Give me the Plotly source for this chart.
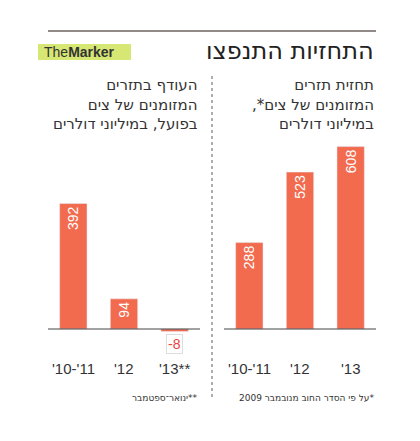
import plotly.graph_objects as go

cats_left = ["'10-'11", "'12", "'13**"]
vals_left = [392, 94, -8]
cats_right = ["'10-'11", "'12", "'13"]
vals_right = [288, 523, 608]

W, H = 420, 441
ORANGE = '#f26b4f'
FONT = 'Liberation Sans, Arial, sans-serif'
HEB = 'DejaVu Sans, Noto Sans, sans-serif'
RLM = '\u200f'

def px(x):
    return x / W

def py(y):
    return 1 - (y - 8) / H

fig = go.Figure()

fig.add_trace(go.Bar(
    x=cats_left, y=vals_left, xaxis='x', yaxis='y', marker_color=ORANGE,
    text=[str(v) if v > 0 else '' for v in vals_left], textposition='inside',
    insidetextanchor='end', textangle=-90,
    textfont=dict(color='white', size=14, family=FONT), cliponaxis=False
))
fig.add_trace(go.Bar(
    x=cats_right, y=vals_right, xaxis='x2', yaxis='y2', marker_color=ORANGE,
    text=[str(v) for v in vals_right], textposition='inside',
    insidetextanchor='end', textangle=-90,
    textfont=dict(color='white', size=14, family=FONT), cliponaxis=False
))

ax = dict(showgrid=False, showticklabels=False, zeroline=False, showline=False, fixedrange=True)
fig.update_layout(
    width=W, height=H, margin=dict(l=0, r=0, t=0, b=0),
    paper_bgcolor='white', plot_bgcolor='white', showlegend=False, bargap=0.46,
    xaxis=dict(domain=[px(40), px(192)], **ax),
    xaxis2=dict(domain=[px(216), px(368)], **ax),
    yaxis=dict(domain=[0.1, 0.8], range=[-237.5, 727.5], anchor='x', **ax),
    yaxis2=dict(domain=[0.1, 0.8], range=[-253, 776], anchor='x2', **ax),
)

shapes = [
    dict(type='line', xref='paper', yref='paper', x0=px(40), x1=px(368), y0=py(31), y1=py(31),
         line=dict(color='#6b6560', width=1.5)),
    dict(type='line', xref='paper', yref='paper', x0=px(40), x1=px(192), y0=py(329), y1=py(329),
         line=dict(color='#444', width=1)),
    dict(type='line', xref='paper', yref='paper', x0=px(216), x1=px(368), y0=py(329), y1=py(329),
         line=dict(color='#444', width=1)),
    dict(type='line', xref='paper', yref='paper', x0=px(204), x1=px(204), y0=py(76), y1=py(400),
         line=dict(color='#777', width=1.2, dash='dot')),
    dict(type='rect', xref='paper', yref='paper', x0=px(30), x1=px(123), y0=py(60), y1=py(44),
         fillcolor='#cfe35a', line=dict(width=0), opacity=0.85),
]

ann = []
ann.append(dict(x=px(368), y=py(51), text='התחזיות התנפצו', xanchor='right', yanchor='middle',
                font=dict(size=24, family=HEB, color='#222')))
ann.append(dict(x=px(34), y=py(52), text='The<b>Marker</b>', xanchor='left', yanchor='middle',
                font=dict(size=14, family=FONT, color='#333')))
ann.append(dict(x=px(368), y=py(104),
                text=RLM + 'תחזית תזרים<br>' + RLM + 'המזומנים של צים*,' + RLM + '<br>' + RLM + 'במיליוני דולרים',
                xanchor='right', yanchor='middle', align='right',
                font=dict(size=15, family=HEB, color='#333')))
ann.append(dict(x=px(192), y=py(104),
                text=RLM + 'העודף בתזרים<br>' + RLM + 'המזומנים של צים<br>' + RLM + 'בפועל, במיליוני דולרים',
                xanchor='right', yanchor='middle', align='right',
                font=dict(size=15, family=HEB, color='#333')))
for c in cats_left:
    ann.append(dict(x=c, xref='x', y=py(368), text=c, yanchor='middle',
                    font=dict(size=15, family=FONT, color='#333')))
for c in cats_right:
    ann.append(dict(x=c, xref='x2', y=py(368), text=c, yanchor='middle',
                    font=dict(size=15, family=FONT, color='#333')))
ann.append(dict(x=cats_left[2], xref='x', y=py(344), text=str(vals_left[2]), yanchor='middle',
                font=dict(size=14, family=FONT, color='#e8453c'),
                bordercolor='#ddd', borderwidth=1, bgcolor='white', borderpad=1))
ann.append(dict(x=px(192), y=py(398), text=RLM + '**ינואר־ספטמבר', xanchor='right', yanchor='middle',
                font=dict(size=9, family=HEB, color='#333')))
ann.append(dict(x=px(368), y=py(398), text=RLM + '*על פי הסדר החוב מנובמבר 2009', xanchor='right',
                yanchor='middle', font=dict(size=9, family=HEB, color='#333')))

for a in ann:
    a.setdefault('xref', 'paper')
    a['yref'] = 'paper'
    a['showarrow'] = False

fig.update_layout(shapes=shapes, annotations=ann)
fig.write_html('out.html')
